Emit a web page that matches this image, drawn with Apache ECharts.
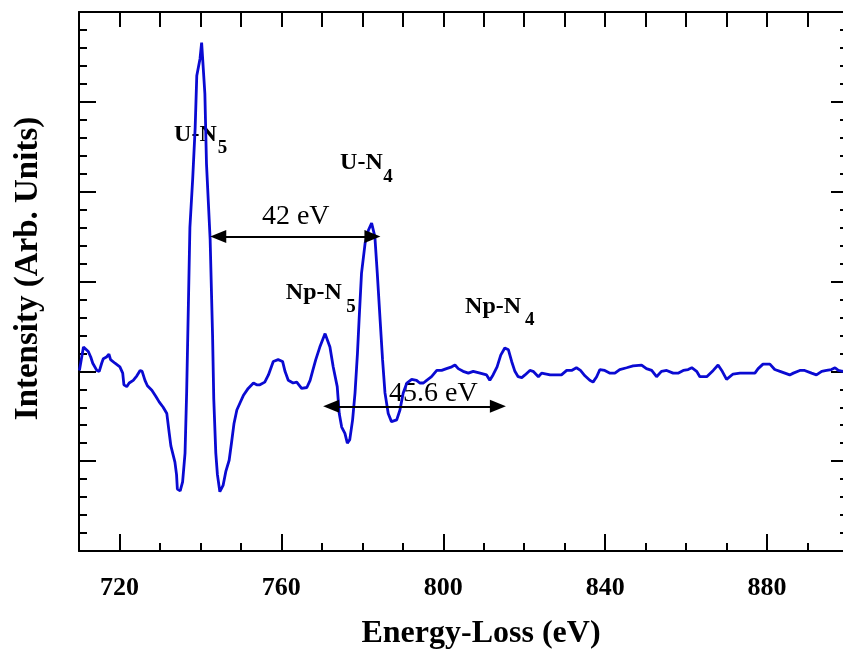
<!DOCTYPE html>
<html>
<head>
<meta charset="utf-8">
<script src="https://cdn.jsdelivr.net/npm/echarts@6/dist/echarts.min.js"></script>
<style>
html,body{margin:0;padding:0;background:#fff;overflow:hidden;}
#chart{width:843px;height:653px;}
</style>
</head>
<body>
<div id="chart"></div>
<script>
// ---- data ----
const energy = [
710.1,711.1,711.5,712.3,712.9,713.4,714.4,715.0,715.6,716.0,716.8,717.4,717.8,718.9,720.1,720.8,721.1,721.8,722.4,723.4,
724.3,725.1,725.6,726.3,726.9,728.0,729.0,729.8,730.8,731.7,732.3,732.7,733.7,734.1,734.3,735.0,735.6,736.2,736.6,737.0,
737.4,738.1,738.7,739.1,739.9,740.3,740.7,741.1,741.5,742.4,743.0,743.3,743.8,744.2,744.8,745.6,746.3,747.1,747.7,748.3,
749.0,749.8,750.6,751.8,753.1,753.9,754.7,755.9,756.8,757.2,758.0,759.2,760.3,760.9,761.7,762.9,763.8,765.0,766.3,767.1,
767.7,768.5,769.5,770.8,771.2,772.0,772.8,773.8,774.3,774.9,775.7,776.3,776.9,777.6,778.2,778.8,779.2,779.8,780.7,781.5,
782.3,783.1,783.7,784.4,785.0,785.6,786.4,787.2,788.5,789.3,790.1,791.0,792.2,793.4,794.2,795.1,795.9,797.1,798.4,799.6,
800.8,802.1,802.9,803.7,804.9,806.2,807.4,809.1,810.7,811.5,812.3,813.3,814.2,815.2,816.1,816.9,817.7,818.5,819.4,820.2,
821.4,822.2,823.5,824.3,825.5,826.4,829.2,830.5,831.7,832.9,833.9,835.0,836.2,837.0,837.9,838.7,839.9,841.2,842.4,843.6,
845.3,846.9,849.0,850.2,851.5,852.7,853.9,855.2,856.8,858.0,859.3,860.5,861.4,862.6,863.4,865.1,866.7,867.9,868.8,870.0,
871.6,873.3,875.8,877.0,877.8,879.0,880.7,881.9,883.2,884.4,885.6,886.5,888.1,889.3,891.0,892.2,893.5,894.7,895.9,896.8,
897.6,898.7,900.0
];
const intensity = [
2.01,2.27,2.28,2.22,2.16,2.09,2.01,2.00,2.09,2.14,2.16,2.19,2.13,2.09,2.05,1.98,1.85,1.83,1.87,1.90,
1.95,2.01,2.00,1.90,1.84,1.79,1.72,1.66,1.60,1.53,1.31,1.17,0.99,0.85,0.69,0.67,0.77,1.09,1.77,2.68,
3.60,4.15,4.71,5.29,5.48,5.66,5.67,5.09,4.31,3.47,2.40,1.69,1.09,0.85,0.66,0.73,0.89,1.01,1.21,1.42,
1.57,1.65,1.73,1.81,1.87,1.85,1.85,1.88,1.96,2.01,2.11,2.13,2.11,2.00,1.90,1.87,1.88,1.81,1.82,1.90,
2.00,2.13,2.27,2.42,2.40,2.27,2.05,1.83,1.53,1.38,1.31,1.20,1.24,1.46,1.76,2.20,2.57,3.09,3.43,3.57,
3.65,3.50,3.09,2.57,2.13,1.76,1.53,1.44,1.46,1.57,1.76,1.87,1.91,1.90,1.87,1.87,1.90,1.94,2.01,2.01,
2.03,2.05,2.07,2.03,2.00,1.98,2.00,1.98,1.96,1.90,1.96,2.05,2.18,2.26,2.24,2.11,2.00,1.94,1.93,1.96,
2.01,2.00,1.94,1.98,1.97,1.96,1.96,2.01,2.01,2.04,2.01,1.95,1.90,1.88,1.94,2.02,2.01,1.98,1.98,2.02,
2.04,2.06,2.07,2.03,2.01,1.94,2.00,2.01,1.98,1.98,2.01,2.02,2.04,2.00,1.94,1.94,2.01,2.07,2.01,1.91,
1.97,1.98,1.98,1.98,2.03,2.08,2.08,2.02,2.00,1.98,1.96,1.98,2.01,2.01,1.98,1.96,2.00,2.01,2.02,2.04,
2.01,2.00,2.01
];
const xTickLabels = [720, 760, 800, 840, 880];
// energy-separation arrows: [from eV, to eV, intensity level]
const arrow42 = [744.4, 782.5, 3.50];
const arrow456 = [772.3, 813.5, 1.61];

const FONT = '"Liberation Serif", "Times New Roman", serif';
const BLUE = '#0a0ad2';

const chart = echarts.init(document.getElementById('chart'), null, {renderer: 'canvas'});
const seriesData = energy.map((e, i) => [e, intensity[i]]);

const yCommon = {
  type: 'value', min: 0, max: 6, interval: 1,
  axisLine: {show: true, onZero: false, lineStyle: {color: '#000', width: 2}},
  axisTick: {show: true, inside: true, length: 17, lineStyle: {color: '#000', width: 2}},
  minorTick: {show: true, splitNumber: 5, length: 8, lineStyle: {color: '#000', width: 2}},
  axisLabel: {show: false},
  splitLine: {show: false}
};

function arrowLine(a) {
  return [{coord: [a[0], a[2]]}, {coord: [a[1], a[2]]}];
}

chart.setOption({
  animation: false,
  backgroundColor: '#fff',
  grid: {left: 79, width: 769, top: 12, height: 539, containLabel: false, outerBoundsMode: 'none'},
  xAxis: [
    {
      type: 'value', min: 710, max: 900, interval: 10, position: 'bottom',
      axisLine: {show: true, onZero: false, lineStyle: {color: '#000', width: 2}},
      axisTick: {show: true, inside: true, length: 17, customValues: xTickLabels, lineStyle: {color: '#000', width: 2}},
      axisLabel: {show: true, customValues: xTickLabels, margin: 24, color: '#000',
                  fontFamily: FONT, fontWeight: 'bold', fontSize: 26},
      splitLine: {show: false}
    },
    {
      type: 'value', min: 710, max: 900, interval: 10, position: 'bottom',
      axisLine: {show: false, onZero: false},
      axisTick: {show: true, inside: true, length: 8, lineStyle: {color: '#000', width: 2}},
      axisLabel: {show: false},
      splitLine: {show: false}
    },
    {
      type: 'value', min: 710, max: 900, interval: 10, position: 'top',
      axisLine: {show: true, onZero: false, lineStyle: {color: '#000', width: 2}},
      axisTick: {show: true, inside: true, length: 15, lineStyle: {color: '#000', width: 2}},
      axisLabel: {show: false},
      splitLine: {show: false}
    }
  ],
  yAxis: [
    Object.assign({}, yCommon, {position: 'left'}),
    Object.assign({}, yCommon, {position: 'right'})
  ],
  series: [
    {
      type: 'line', xAxisIndex: 0, yAxisIndex: 0, z: 3,
      data: seriesData, showSymbol: false, smooth: false,
      lineStyle: {color: BLUE, width: 2.8}
    },
    {
      type: 'line', xAxisIndex: 0, yAxisIndex: 0, z: 2, data: [],
      markLine: {
        silent: true, animation: false,
        symbol: ['triangle', 'triangle'], symbolSize: [13, 16],
        lineStyle: {color: '#000', width: 2, type: 'solid'},
        itemStyle: {color: '#000'},
        label: {show: false},
        emphasis: {disabled: true},
        data: [arrowLine(arrow42), arrowLine(arrow456)]
      }
    }
  ]
});

// annotation texts anchored in data coordinates
const annotations = [
  {t: 'U-N', x: 733.5, y: 4.63, size: 24, bold: true},
  {t: '5',   x: 744.3, y: 4.48, size: 19, bold: true},
  {t: 'U-N', x: 774.5, y: 4.32, size: 24, bold: true},
  {t: '4',   x: 785.2, y: 4.16, size: 19, bold: true},
  {t: 'Np-N', x: 761.1, y: 2.87, size: 24, bold: true},
  {t: '5',   x: 776.0, y: 2.71, size: 19, bold: true},
  {t: 'Np-N', x: 805.4, y: 2.72, size: 24, bold: true},
  {t: '4',   x: 820.2, y: 2.57, size: 19, bold: true},
  {t: '42 eV', x: 755.2, y: 3.72, size: 28, bold: false},
  {t: '45.6 eV', x: 786.6, y: 1.75, size: 28, bold: false}
];

const graphics = annotations.map(a => {
  const p = chart.convertToPixel({xAxisIndex: 0, yAxisIndex: 0}, [a.x, a.y]);
  return {
    type: 'text', x: p[0], y: p[1], z: 1, silent: true,
    style: {
      text: a.t, x: 0, y: 0, fill: '#000',
      font: (a.bold ? 'bold ' : '') + a.size + 'px ' + FONT,
      textAlign: 'left', align: 'left', textVerticalAlign: 'middle', verticalAlign: 'middle'
    }
  };
});
graphics.push({
  type: 'text', x: 481, y: 634, z: 1, silent: true,
  style: {text: 'Energy-Loss (eV)', x: 0, y: 0, fill: '#000', font: 'bold 32px ' + FONT,
          textAlign: 'center', align: 'center', textVerticalAlign: 'middle', verticalAlign: 'middle'}
});
graphics.push({
  type: 'text', x: 28, y: 268.5, rotation: Math.PI / 2, z: 1, silent: true,
  style: {text: 'Intensity (Arb. Units)', x: 0, y: 0, fill: '#000', font: 'bold 33px ' + FONT,
          textAlign: 'center', align: 'center', textVerticalAlign: 'middle', verticalAlign: 'middle'}
});
chart.setOption({graphic: graphics});
</script>
</body>
</html>
